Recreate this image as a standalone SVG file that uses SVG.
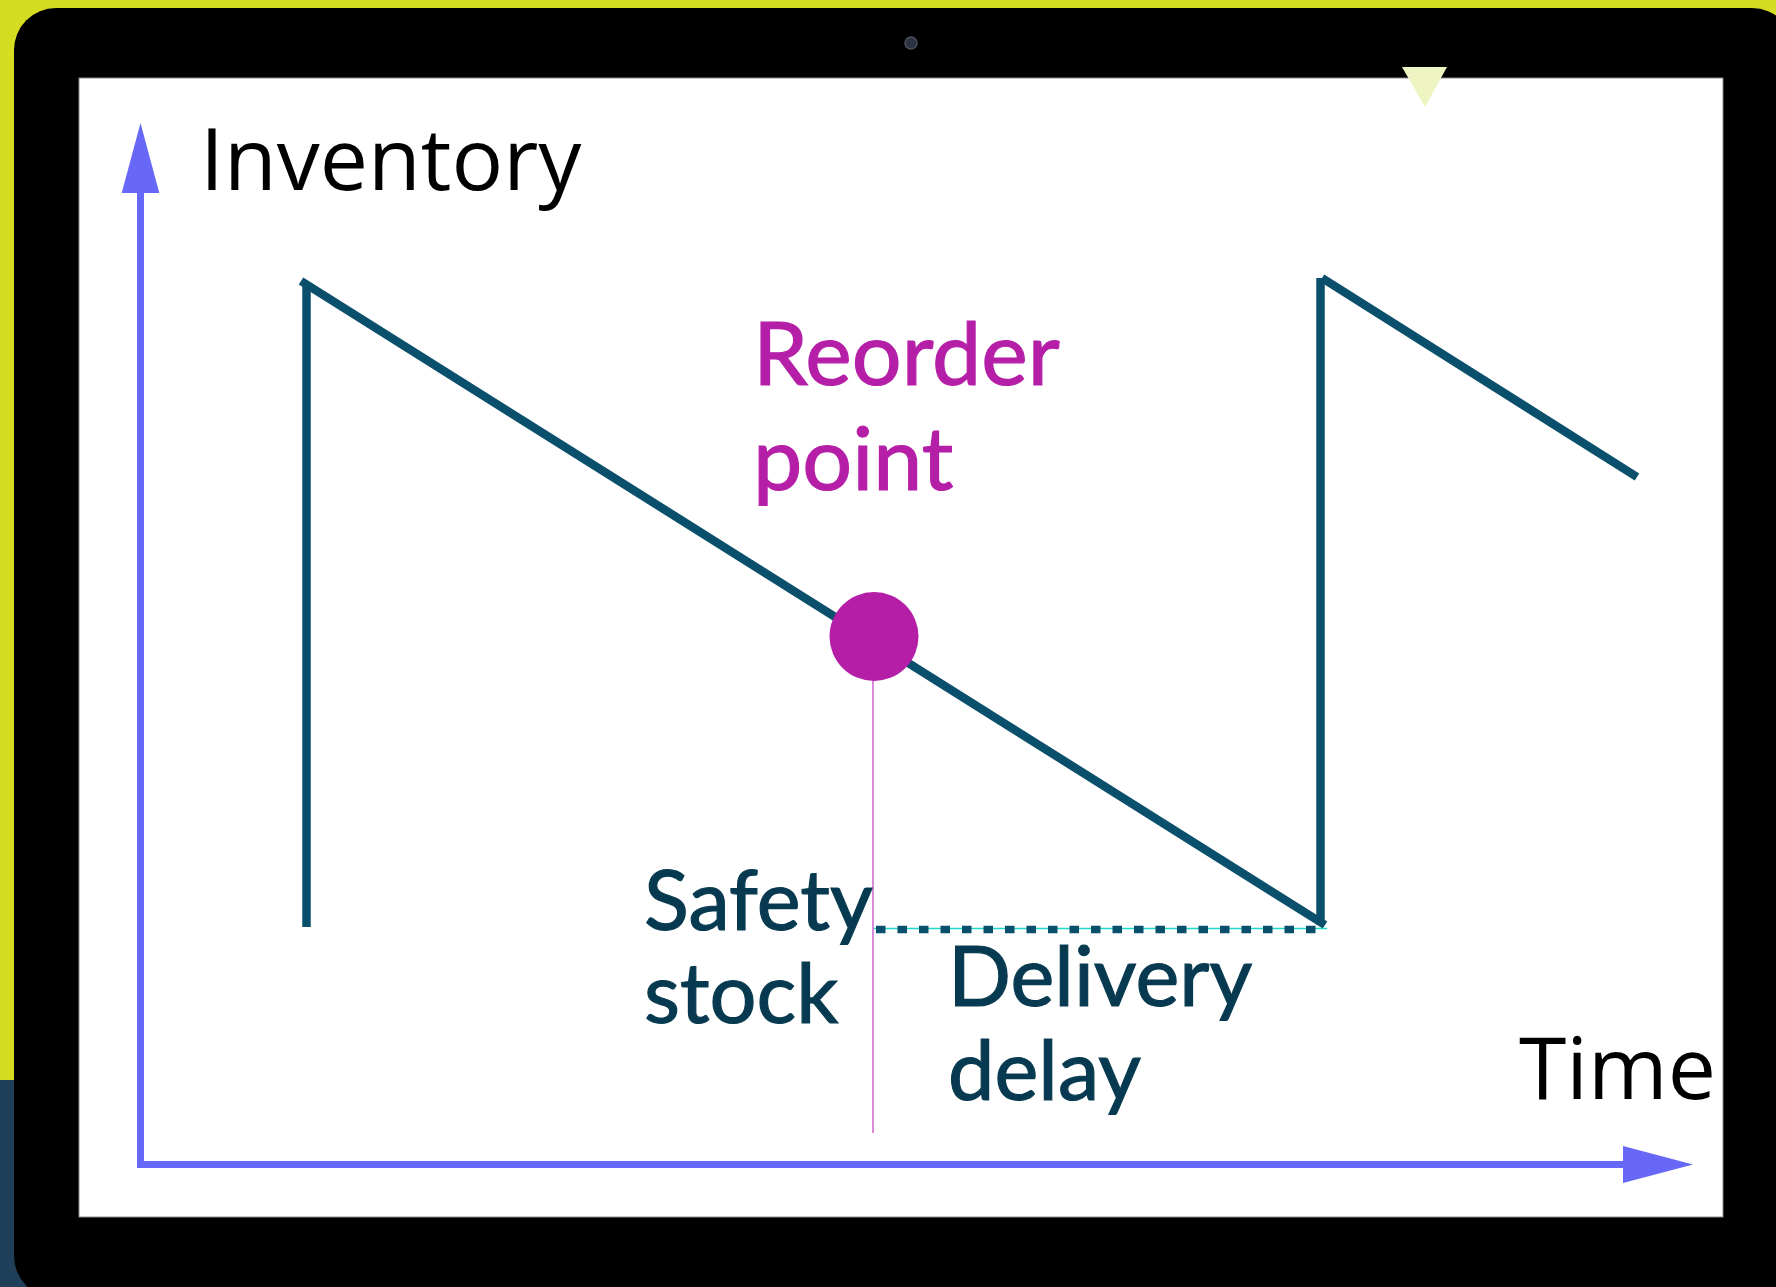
<svg xmlns="http://www.w3.org/2000/svg" width="1776" height="1287" viewBox="0 0 1776 1287">
  <defs>
    <style>
      .saw { fill: none; stroke: #0a4f6b; stroke-width: 8.5; stroke-linejoin: miter; stroke-linecap: butt; }
      .axis { stroke: #6767f8; stroke-width: 7; fill: none; }
      .axhead { fill: #6767f8; }
      .lbl-black { font-family: "Open Sans", "Noto Sans", sans-serif; fill: #000000; }
      .lbl-dark { font-family: Lato, "Noto Sans", sans-serif; fill: #073a50; stroke: #073a50; stroke-width: 1.2; font-size: 83px; }
      .lbl-mag { font-family: Lato, "Noto Sans", sans-serif; fill: #b51fa8; stroke: #b51fa8; stroke-width: 1.2; font-size: 88px; }
    </style>
  </defs>

  <!-- background -->
  <rect x="0" y="0" width="1776" height="1287" fill="#d6dc22"/>
  <rect x="0" y="1080" width="60" height="207" fill="#1f4058"/>

  <!-- device frame -->
  <g id="device">
    <rect x="14" y="8" width="1780" height="1290" rx="42" ry="42" fill="#000000"/>
    <rect x="79" y="78" width="1644" height="1139" fill="#ffffff" stroke="#8a8a8a" stroke-width="1"/>
    <circle cx="911" cy="43" r="6" fill="#2b3340" stroke="#4a4f5a" stroke-width="1.5"/>
    <polygon points="1402,67 1447,67 1425,107" fill="#eef4c2"/>
  </g>

  <!-- connectors / lines -->
  <g id="connectors">
    <line class="axis" x1="140.5" y1="190" x2="140.5" y2="1168"/>
    <polygon class="axhead" points="140.5,123 121.7,193 159.3,193"/>
    <line class="axis" x1="137" y1="1164.5" x2="1625" y2="1164.5"/>
    <polygon class="axhead" points="1693,1164.5 1623,1146 1623,1183"/>

    <polyline class="saw" points="306.5,927 306.5,282"/>
    <polyline class="saw" points="301,281 1325,925"/>
    <polyline class="saw" points="1320.5,925 1320.5,278"/>
    <polyline class="saw" points="1322,278 1637,477"/>

    <line x1="873" y1="928.5" x2="1327" y2="928.5" stroke="#22d8c8" stroke-width="1.5"/>
    <line x1="876" y1="929.5" x2="1327" y2="929.5" stroke="#0a4f6b" stroke-width="7.5" stroke-dasharray="9.5 12"/>
    <line x1="873" y1="680" x2="873" y2="1133" stroke="#d98ad9" stroke-width="2"/>
  </g>

  <g id="reorder-point">
    <circle cx="874" cy="636.5" r="44.5" fill="#b51fa8"/>
    <text class="lbl-mag" x="753" y="385">Reorder</text>
    <text class="lbl-mag" x="753" y="490">point</text>
  </g>

  <g id="axis-labels">
    <text class="lbl-black" x="200" y="190" font-size="86">Inventory</text>
    <text class="lbl-black" x="1519" y="1099" font-size="86">Time</text>
  </g>

  <g id="safety-stock">
    <text class="lbl-dark" x="644" y="930">Safety</text>
    <text class="lbl-dark" x="644" y="1023">stock</text>
  </g>

  <g id="delivery-delay">
    <text class="lbl-dark" x="948" y="1006">Delivery</text>
    <text class="lbl-dark" x="948" y="1100">delay</text>
  </g>
</svg>
